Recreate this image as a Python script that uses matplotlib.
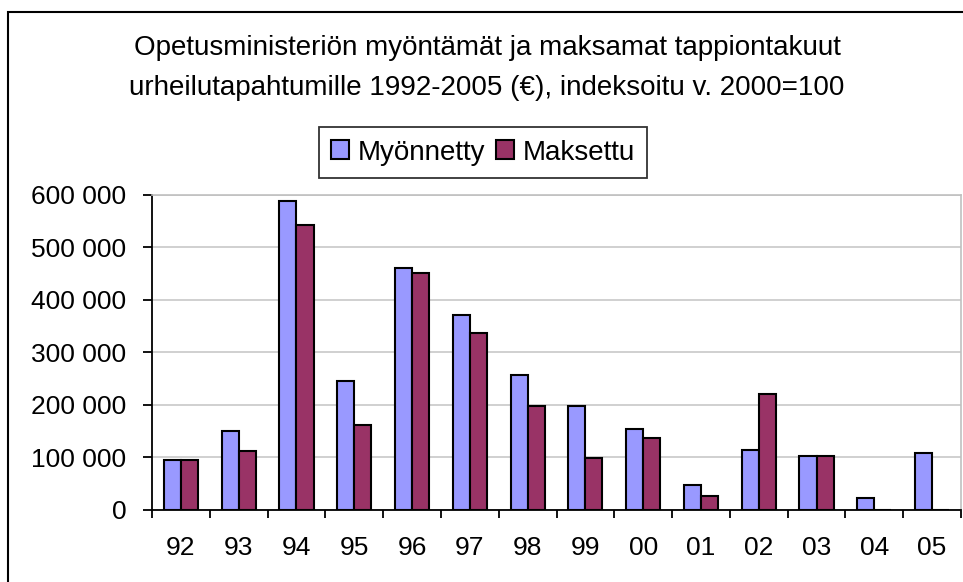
import matplotlib
matplotlib.use('Agg')
import matplotlib.pyplot as plt
import matplotlib.patches as patches
from matplotlib.ticker import FuncFormatter, FixedLocator
import numpy as np

years = ['92', '93', '94', '95', '96', '97', '98', '99', '00', '01', '02', '03', '04', '05']
myonnetty = [95000, 150000, 588000, 245000, 461000, 371000, 256000, 198000, 153000, 46000, 114000, 103000, 22000, 107000]
maksettu = [95000, 111000, 543000, 161000, 451000, 336000, 198000, 99000, 137000, 26000, 220000, 103000, 0, 0]

title = ('Opetusministeriön myöntämät ja maksamat tappiontakuut\n'
         'urheilutapahtumille 1992-2005 (€), indeksoitu v. 2000=100')

plt.rcParams['font.family'] = ['Liberation Sans', 'DejaVu Sans']
plt.rcParams['font.size'] = 19

fig = plt.figure(figsize=(9.63, 5.82), dpi=100)
ax = fig.add_axes([152/963, 1 - 509.5/582, (961 - 152)/963, (509.5 - 195)/582])

x = np.arange(len(years))
w = 0.295
ax.bar(x - w/2, myonnetty, w, color='#9999FF', edgecolor='black', linewidth=1.5, label='Myönnetty', zorder=3)
ax.bar(x + w/2, maksettu, w, color='#993366', edgecolor='black', linewidth=1.5, label='Maksettu', zorder=3)

ax.set_xlim(-0.5, len(years) - 0.5)
ax.set_ylim(0, 600000)
ax.set_yticks(np.arange(0, 600001, 100000))
ax.yaxis.set_major_formatter(FuncFormatter(lambda v, p: f'{int(v):,}'.replace(',', ' ')))
ax.grid(axis='y', color='#C8C8C8', linewidth=1.2, zorder=0)

ax.set_xticks(x)
ax.set_xticklabels(years)
ax.xaxis.set_minor_locator(FixedLocator(np.arange(-0.5, len(years), 1)))
ax.tick_params(axis='x', which='major', length=0, pad=19)
ax.tick_params(axis='x', which='minor', length=6, width=1.3, direction='out')
ax.tick_params(axis='y', length=6.5, width=1.3, direction='out', pad=12)

for s in ['top', 'right']:
    ax.spines[s].set_color('#C0C0C0')
    ax.spines[s].set_linewidth(1.2)
ax.spines['left'].set_linewidth(1.3)
ax.spines['bottom'].set_linewidth(1.3)

fig.text(487/963, 1 - 68/582, title, ha='center', va='center', linespacing=1.72, fontsize=20)

leg = fig.legend(loc='center', bbox_to_anchor=(483/963, 1 - 152.5/582), ncol=2,
                 frameon=True, fancybox=False, edgecolor='black', handlelength=0.65,
                 handleheight=0.65, handletextpad=0.3, columnspacing=0.4,
                 borderpad=0.45, borderaxespad=0, fontsize=20)
leg.get_frame().set_linewidth(1.3)

fig.patches.append(patches.Rectangle((8/963, -0.1), 1.2, 0.1 + 1 - 12/582, transform=fig.transFigure,
                                     fill=False, edgecolor='black', linewidth=1.5))

fig.savefig('out.png', dpi=100)
